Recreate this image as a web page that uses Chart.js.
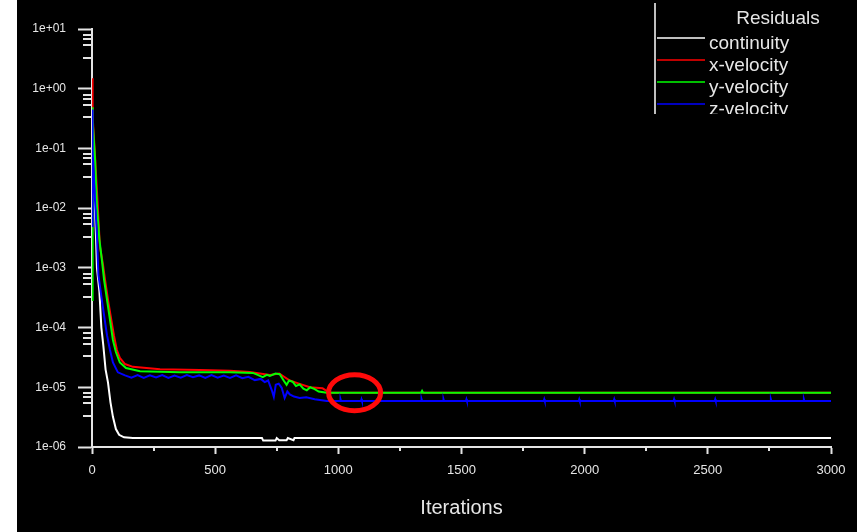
<!DOCTYPE html>
<html>
<head>
<meta charset="utf-8">
<script src="https://cdn.jsdelivr.net/npm/chart.js@4.4.1/dist/chart.umd.min.js"></script>
<style>
  html, body { margin: 0; padding: 0; background: #ffffff; }
  #wrap { width: 868px; height: 532px; }
</style>
</head>
<body>
<div id="wrap"><canvas id="myChart" width="868" height="532"></canvas></div>
<script>
// residual history (iteration -> residual)
var contIter = [0, 4, 10, 16, 20, 30, 38, 46, 55, 65, 75, 85, 97, 110, 130, 166,
  690, 695, 745, 750, 760, 790, 795, 818, 822, 3000];
var contRes = [1e-1, 3.5e-2, 1.6e-2, 3.5e-3, 1e-3, 4e-4, 1e-4, 5e-5, 2e-5, 1.2e-5,
  5.6e-6, 3.2e-6, 2.0e-6, 1.6e-6, 1.45e-6, 1.41e-6,
  1.41e-6, 1.28e-6, 1.28e-6, 1.41e-6, 1.3e-6, 1.3e-6, 1.41e-6, 1.3e-6, 1.41e-6, 1.41e-6];

var xvelIter = [0, 1, 4, 12, 22, 32, 45, 53, 65, 77, 89, 101, 113, 134, 166, 276,
  438, 560, 640, 722, 760, 803, 840, 884, 936, 965, 3000];
var xvelRes = [1.5, 0.5, 0.35, 7.8e-2, 1.4e-2, 2.3e-3, 1.1e-3, 6.3e-4, 2.9e-4, 1.45e-4,
  7.4e-5, 4.2e-5, 3.1e-5, 2.45e-5, 2.2e-5, 2.0e-5,
  1.95e-5, 1.9e-5, 1.8e-5, 1.6e-5, 1.7e-5, 1.3e-5, 1.15e-5, 1.0e-5, 9.6e-6, 8.1e-6, 8.1e-6];

var yvelIter = [0, 1, 4, 12, 20, 30, 41, 49, 61, 73, 85, 97, 113, 138, 195, 357,
  560, 653, 675, 693, 710, 722, 745, 762, 778, 790, 800, 815, 828, 843,
  858, 872, 886, 904, 920, 953, 1336, 1340, 1344, 3000];
var yvelRes = [2.9e-4, 0.49, 0.3, 7e-2, 1.1e-2, 3.0e-3, 1.26e-3, 6.3e-4, 2.9e-4, 1.35e-4,
  6.2e-5, 3.9e-5, 2.6e-5, 2.1e-5, 1.86e-5, 1.78e-5,
  1.78e-5, 1.74e-5, 1.6e-5, 1.48e-5, 1.62e-5, 1.55e-5, 1.7e-5, 1.66e-5, 1.3e-5, 1.1e-5,
  1.3e-5, 1.23e-5, 1.05e-5, 1.12e-5, 9.5e-6, 8.9e-6, 1.0e-5, 9.3e-6, 8.5e-6, 8.1e-6,
  8.1e-6, 8.7e-6, 8.1e-6, 8.1e-6];

var zvelIter = [0, 1, 4, 12, 20, 26, 36, 49, 61, 73,
  85, 105, 134, 160, 185, 210, 235, 260, 285, 310,
  335, 360, 385, 410, 435, 460, 485, 510, 535, 560,
  585, 610, 635, 661, 685, 701, 715, 730, 738, 746,
  758, 770, 782, 793, 803, 820, 843, 870, 904, 953,
  1007, 1009, 1011, 1092, 1094, 1096, 1336, 1338, 1340, 1425,
  1427, 1429, 1518, 1520, 1522, 1834, 1836, 1838, 1976, 1978,
  1980, 2118, 2120, 2122, 2361, 2363, 2365, 2528, 2530, 2532,
  2754, 2756, 2758, 2888, 2890, 2892, 3000];
var zvelRes = [5e-3, 0.45, 9.3e-2, 1.4e-2, 3.5e-3, 7.6e-4, 3.8e-4, 1.6e-4, 7.4e-5, 4.2e-5,
  2.6e-5, 1.78e-5, 1.58e-5, 1.45e-5, 1.6e-5, 1.44e-5, 1.58e-5, 1.46e-5, 1.6e-5, 1.43e-5,
  1.57e-5, 1.45e-5, 1.6e-5, 1.47e-5, 1.58e-5, 1.44e-5, 1.6e-5, 1.45e-5, 1.57e-5, 1.44e-5,
  1.58e-5, 1.42e-5, 1.5e-5, 1.32e-5, 1.38e-5, 1.22e-5, 1.3e-5, 8.9e-6, 6.9e-6, 1.1e-5,
  1.15e-5, 9.8e-6, 6.6e-6, 8.5e-6, 7.6e-6, 7.0e-6, 6.6e-6, 6.8e-6, 6.3e-6, 5.9e-6,
  5.9e-6, 6.3e-6, 5.9e-6, 5.9e-6, 6.3e-6, 5.9e-6, 5.9e-6, 6.3e-6, 5.9e-6, 5.9e-6,
  6.3e-6, 5.9e-6, 5.9e-6, 6.3e-6, 5.9e-6, 5.9e-6, 6.3e-6, 5.9e-6, 5.9e-6, 6.3e-6,
  5.9e-6, 5.9e-6, 6.3e-6, 5.9e-6, 5.9e-6, 6.3e-6, 5.9e-6, 5.9e-6, 6.3e-6, 5.9e-6,
  5.9e-6, 6.3e-6, 5.9e-6, 5.9e-6, 6.3e-6, 5.9e-6, 5.9e-6];

// axis ticks
var xMajor = [0, 500, 1000, 1500, 2000, 2500, 3000];
var xMinor = [250, 750, 1250, 1750, 2250, 2750];
var yMajor = [1e-6, 1e-5, 1e-4, 1e-3, 1e-2, 1e-1, 1e0, 1e1];
var yMinorMult = [3.3, 5.4, 6.8, 8];

// red marker circle (iteration, residual)
var markIter = 1066;
var markRes = 8.1e-6;

var axisColor = "#e4e4e4";
var textColor = "#e6e6e6";
var fontFam = "'Liberation Sans', Arial, sans-serif";

function pts(xs, ys) {
  var out = [];
  for (var i = 0; i < xs.length; i++) out.push({ x: xs[i], y: ys[i] });
  return out;
}

function isDecade(v) {
  var e = Math.log10(v);
  return Math.abs(e - Math.round(e)) < 1e-6;
}

function expLabel(v) {
  var e = Math.round(Math.log10(v));
  var a = Math.abs(e);
  return "1e" + (e < 0 ? "-" : "+") + (a < 10 ? "0" : "") + a;
}

var bgPlugin = {
  id: "bg",
  beforeDraw: function (chart) {
    var ctx = chart.ctx;
    ctx.save();
    ctx.fillStyle = "#000000";
    ctx.fillRect(17, 0, 840, chart.height);
    ctx.restore();
  }
};

var extrasPlugin = {
  id: "extras",
  afterDatasetsDraw: function (chart) {
    // red marker ellipse
    var ctx = chart.ctx;
    var xs = chart.scales.x, ys = chart.scales.y;
    ctx.save();
    ctx.strokeStyle = "#ff0a0a";
    ctx.lineWidth = 5;
    ctx.beginPath();
    ctx.ellipse(xs.getPixelForValue(markIter), ys.getPixelForValue(markRes), 26, 18, 0, 0, 2 * Math.PI);
    ctx.stroke();
    ctx.restore();
  },
  afterDraw: function (chart) {
    var ctx = chart.ctx;
    var xs = chart.scales.x, ys = chart.scales.y;
    ctx.save();
    // minor ticks
    ctx.strokeStyle = axisColor;
    ctx.lineWidth = 2;
    ctx.beginPath();
    ys.ticks.forEach(function (t) {
      if (isDecade(t.value)) return;
      var py = Math.round(ys.getPixelForValue(t.value));
      ctx.moveTo(ys.right - 9, py);
      ctx.lineTo(ys.right, py);
    });
    xs.ticks.forEach(function (t) {
      if (t.value % 500 === 0) return;
      var px = Math.round(xs.getPixelForValue(t.value));
      ctx.moveTo(px, xs.top);
      ctx.lineTo(px, xs.top + 4);
    });
    ctx.stroke();

    // legend box, clipped like the original
    ctx.beginPath();
    ctx.rect(650, 0, 207, 114);
    ctx.clip();
    ctx.fillStyle = "#000000";
    ctx.fillRect(654, 0, 203, 114);
    ctx.strokeStyle = "#ffffff";
    ctx.lineWidth = 1.5;
    ctx.beginPath();
    ctx.moveTo(655, 3);
    ctx.lineTo(655, 114);
    ctx.stroke();
    ctx.fillStyle = textColor;
    ctx.font = "19px " + fontFam;
    ctx.textAlign = "center";
    ctx.textBaseline = "alphabetic";
    ctx.fillText("Residuals", 778, 24);
    ctx.textAlign = "left";
    chart.data.datasets.forEach(function (ds, i) {
      var ly = 38 + i * 22;
      ctx.strokeStyle = ds.borderColor;
      ctx.lineWidth = 1.5;
      ctx.beginPath();
      ctx.moveTo(657, ly);
      ctx.lineTo(705, ly);
      ctx.stroke();
      ctx.fillStyle = textColor;
      ctx.fillText(ds.label, 709, ly + 11);
    });
    ctx.restore();
  }
};

new Chart(document.getElementById("myChart"), {
  type: "line",
  data: {
    datasets: [
      { label: "continuity", data: pts(contIter, contRes), borderColor: "#ffffff", order: 3 },
      { label: "x-velocity", data: pts(xvelIter, xvelRes), borderColor: "#ff0000", order: 2 },
      { label: "y-velocity", data: pts(yvelIter, yvelRes), borderColor: "#00ff00", order: 1 },
      { label: "z-velocity", data: pts(zvelIter, zvelRes), borderColor: "#0000ff", order: 0 }
    ]
  },
  options: {
    responsive: false,
    animation: false,
    devicePixelRatio: 1,
    layout: { padding: { left: 0, right: 37, top: 29, bottom: 0 } },
    elements: {
      line: { borderWidth: 2, tension: 0, fill: false },
      point: { radius: 0 }
    },
    plugins: {
      legend: { display: false },
      tooltip: { enabled: false }
    },
    scales: {
      x: {
        type: "linear",
        min: 0,
        max: 3000,
        afterBuildTicks: function (scale) {
          scale.ticks = xMajor.concat(xMinor).sort(function (a, b) { return a - b; })
            .map(function (v) { return { value: v }; });
        },
        afterFit: function (scale) { scale.height = 85; },
        border: { display: true, color: axisColor, width: 2 },
        grid: {
          display: true,
          drawOnChartArea: false,
          drawTicks: true,
          tickLength: 7,
          tickWidth: 2,
          tickColor: function (c) {
            return c.tick && c.tick.value % 500 === 0 ? axisColor : "rgba(0,0,0,0)";
          }
        },
        ticks: {
          autoSkip: false,
          maxRotation: 0,
          padding: 9,
          color: textColor,
          font: { family: fontFam, size: 13 },
          callback: function (v) { return v % 500 === 0 ? String(v) : ""; }
        },
        title: {
          display: true,
          text: "Iterations",
          color: textColor,
          font: { family: fontFam, size: 20 },
          padding: { top: 0, bottom: 12 }
        }
      },
      y: {
        type: "logarithmic",
        min: 1e-6,
        max: 1e1,
        afterBuildTicks: function (scale) {
          var vals = yMajor.slice();
          for (var i = 0; i < yMajor.length - 1; i++) {
            yMinorMult.forEach(function (m) { vals.push(m * yMajor[i]); });
          }
          vals.sort(function (a, b) { return a - b; });
          scale.ticks = vals.map(function (v) { return { value: v }; });
        },
        afterFit: function (scale) { scale.width = 92; },
        border: { display: true, color: axisColor, width: 2 },
        grid: {
          display: true,
          drawOnChartArea: false,
          drawTicks: true,
          tickLength: 14,
          tickWidth: 2,
          tickColor: function (c) {
            return c.tick && isDecade(c.tick.value) ? axisColor : "rgba(0,0,0,0)";
          }
        },
        ticks: {
          autoSkip: false,
          padding: 12,
          color: textColor,
          font: { family: fontFam, size: 12 },
          callback: function (v) { return isDecade(v) ? expLabel(v) : ""; }
        }
      }
    }
  },
  plugins: [bgPlugin, extrasPlugin]
});
</script>
</body>
</html>
